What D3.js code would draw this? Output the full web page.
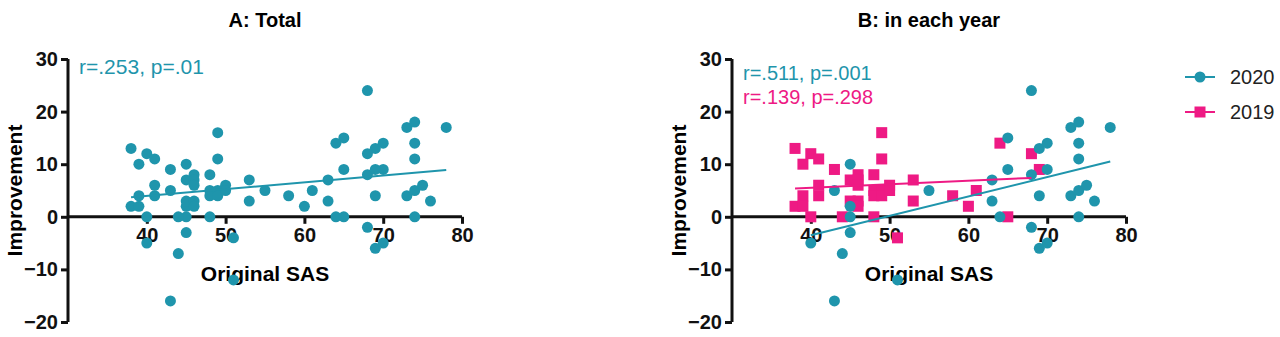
<!DOCTYPE html>
<html>
<head>
<meta charset="utf-8">
<script src="https://cdn.jsdelivr.net/npm/d3@7"></script>
<style>
  body { margin: 0; background: #fff; }
  svg text { font-family: "Liberation Sans", Arial, sans-serif; }
</style>
</head>
<body>
<script>
// values
var sas2020 = [40, 43, 43, 44, 45, 45, 45, 45, 51, 55, 63, 63, 64, 65, 65, 68, 68, 68, 69, 69, 69, 70, 70, 70, 73, 73, 74, 74, 74, 74, 74, 75, 76, 78];
var imp2020 = [-5, 5, -16, -7, 10, 2, 0, -3, -12, 5, 7, 3, 0, 15, 9, 24, 8, -2, 13, 4, -6, 14, 9, -5, 17, 4, 18, 14, 11, 5, 0, 6, 3, 17];

var sas2019 = [38, 38, 39, 39, 39, 40, 40, 41, 41, 41, 43, 44, 45, 45, 46, 46, 46, 46, 46, 48, 48, 48, 48, 49, 49, 49, 49, 50, 50, 51, 53, 53, 58, 60, 61, 64, 65, 68, 69];
var imp2019 = [13, 2, 10, 4, 2, 12, 0, 11, 6, 4, 9, 0, 7, 3, 8, 7, 6, 3, 2, 8, 5, 4, 0, 16, 11, 5, 4, 6, 5, -4, 7, 3, 4, 2, 5, 14, 0, 12, 9];

// fitted lines (start / end) as drawn in the figure
var fitTotalX = [38, 78], fitTotalY = [3.7, 8.9];
var fit2020X = [40, 78], fit2020Y = [-3.5, 10.5];
var fit2019X = [38, 68], fit2019Y = [5.4, 7.4];

var xTicks = [40, 50, 60, 70, 80];
var yTicks = [-20, -10, 0, 10, 20, 30];

var teal = "#1f95ac";
var pink = "#ee1a84";

var svg = d3.select("body").append("svg")
  .attr("width", 1280)
  .attr("height", 337);

function toPts(xs, ys) {
  return xs.map(function(v, i) { return {x: v, y: ys[i]}; });
}

function panel(left, title) {
  var g = svg.append("g");
  var x = d3.scaleLinear().domain([30, 80]).range([left, left + 394]);
  var y = d3.scaleLinear().domain([-20, 30]).range([322, 59]);

  var yAxis = g.append("g")
    .attr("transform", "translate(" + left + ",0)")
    .call(d3.axisLeft(y).tickValues(yTicks).tickSize(7).tickPadding(3));
  var xAxis = g.append("g")
    .attr("transform", "translate(0," + y(0) + ")")
    .call(d3.axisBottom(x).tickValues(xTicks).tickSize(7).tickPadding(4));

  [yAxis, xAxis].forEach(function(a) {
    a.select(".domain").attr("stroke", "#111").attr("stroke-width", 3);
    a.selectAll(".tick line").attr("stroke", "#111").attr("stroke-width", 3);
    a.selectAll(".tick text")
      .attr("fill", "#111")
      .style("font-size", "20px")
      .style("font-weight", "bold")
      .style("font-family", "'Liberation Sans', Arial, sans-serif");
  });
  // plain axis end, no outer ticks
  yAxis.select(".domain").attr("d", "M0," + y(30) + "V" + y(-20));
  xAxis.select(".domain").attr("d", "M" + left + ",0H" + x(80));

  g.append("text")
    .attr("x", left + 197).attr("y", 27)
    .attr("text-anchor", "middle")
    .style("font-size", "20px").style("font-weight", "bold")
    .text(title);

  g.append("text")
    .attr("x", left + 197).attr("y", 281)
    .attr("text-anchor", "middle")
    .style("font-size", "21px").style("font-weight", "bold")
    .text("Original SAS");

  g.append("text")
    .attr("transform", "translate(" + (left - 46) + "," + ((y(30) + y(-20)) / 2) + ") rotate(-90)")
    .attr("text-anchor", "middle")
    .style("font-size", "21px").style("font-weight", "bold")
    .text("Improvement");

  return {g: g, x: x, y: y};
}

function fitLine(p, xs, ys, color) {
  p.g.append("path")
    .datum(toPts(xs, ys))
    .attr("fill", "none")
    .attr("stroke", color)
    .attr("stroke-width", 2)
    .attr("d", d3.line().x(function(d) { return p.x(d.x); }).y(function(d) { return p.y(d.y); }));
}

function circles(p, xs, ys, color) {
  p.g.append("g").selectAll("circle")
    .data(toPts(xs, ys))
    .enter().append("circle")
    .attr("cx", function(d) { return p.x(d.x); })
    .attr("cy", function(d) { return p.y(d.y); })
    .attr("r", 5.5)
    .attr("fill", color);
}

function squares(p, xs, ys, color) {
  var s = 11;
  p.g.append("g").selectAll("rect")
    .data(toPts(xs, ys))
    .enter().append("rect")
    .attr("x", function(d) { return p.x(d.x) - s / 2; })
    .attr("y", function(d) { return p.y(d.y) - s / 2; })
    .attr("width", s).attr("height", s)
    .attr("fill", color);
}

// A: Total
var pA = panel(68, "A: Total");
circles(pA, sas2020.concat(sas2019), imp2020.concat(imp2019), teal);
fitLine(pA, fitTotalX, fitTotalY, teal);
pA.g.append("text")
  .attr("x", 79).attr("y", 74)
  .attr("fill", teal)
  .style("font-size", "21px")
  .text("r=.253, p=.01");

// B: in each year
var pB = panel(732, "B: in each year");
squares(pB, sas2019, imp2019, pink);
circles(pB, sas2020, imp2020, teal);
fitLine(pB, fit2019X, fit2019Y, pink);
fitLine(pB, fit2020X, fit2020Y, teal);
pB.g.append("text")
  .attr("x", 743).attr("y", 80)
  .attr("fill", teal)
  .style("font-size", "20px")
  .text("r=.511, p=.001");
pB.g.append("text")
  .attr("x", 743).attr("y", 104)
  .attr("fill", pink)
  .style("font-size", "20px")
  .text("r=.139, p=.298");

// legend
var legend = svg.append("g");
var leg = [{name: "2020", color: teal, shape: "circle", y: 77},
           {name: "2019", color: pink, shape: "square", y: 112}];
leg.forEach(function(d) {
  legend.append("line")
    .attr("x1", 1185).attr("x2", 1215)
    .attr("y1", d.y).attr("y2", d.y)
    .attr("stroke", d.color).attr("stroke-width", 2);
  if (d.shape == "circle") {
    legend.append("circle").attr("cx", 1200).attr("cy", d.y).attr("r", 5.5).attr("fill", d.color);
  } else {
    legend.append("rect").attr("x", 1194.5).attr("y", d.y - 5.5).attr("width", 11).attr("height", 11).attr("fill", d.color);
  }
  legend.append("text")
    .attr("x", 1230).attr("y", d.y + 7)
    .style("font-size", "20px")
    .attr("fill", "#222")
    .text(d.name);
});
</script>
</body>
</html>
